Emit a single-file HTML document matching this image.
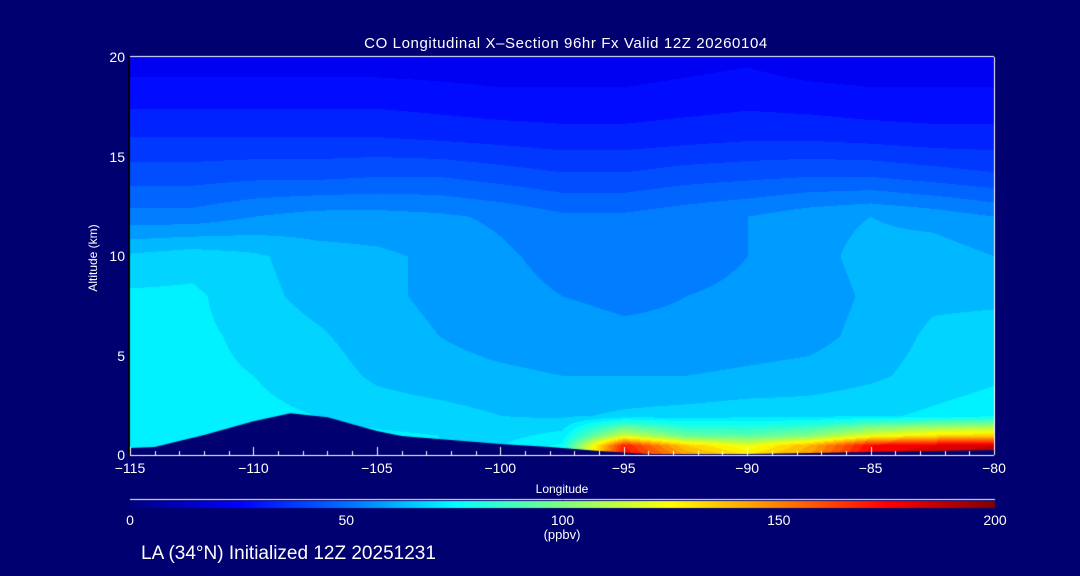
<!DOCTYPE html>
<html><head><meta charset="utf-8"><style>
html,body{margin:0;padding:0;background:#000070;}
#wrap{position:relative;width:1080px;height:576px;background:#000070;overflow:hidden;font-family:"Liberation Sans",sans-serif;color:#fff;}
.t{position:absolute;color:#fff;white-space:nowrap;}
</style></head><body>
<div id="wrap">
<canvas id="cv" width="1080" height="576" style="position:absolute;left:0;top:0"></canvas>
<div class="t" style="left:566px;transform:translateX(-50%);top:35px;font-size:15px;letter-spacing:0.6px;">CO Longitudinal X–Section 96hr  Fx Valid 12Z 20260104</div>
<div class="t" style="left:93px;top:258px;font-size:12px;transform:translate(-50%,-50%) rotate(-90deg);">Altitude (km)</div>
<div class="t" style="left:562px;top:482px;font-size:12px;transform:translateX(-50%);">Longitude</div>
<div class="t" style="left:562px;top:527px;font-size:13px;transform:translateX(-50%);">(ppbv)</div>
<div class="t" style="left:141px;top:543px;font-size:19px;">LA (34°N) Initialized 12Z 20251231</div>
<div id="labels"></div>
</div>
<script>
const lons=[-115,-112.5,-110,-107.5,-105,-102.5,-100,-97.5,-95,-92.5,-90,-87.5,-85,-82.5,-80];
const alts=[0,0.5,1,2,4,6,8,10,12,14,16,18,20];
const co=[
[72,72,72,72,71,70,70,80,175,145,130,145,178,186,190],
[72,72,72,72,71,70,70,76,170,135,120,140,175,180,185],
[72,72,72,72,71,70,68,72,115,95,92,100,120,130,135],
[72,72,71,70,68,67,65,64,66,67,68,68,69,71,73],
[71,71,70,68,64,62,61,60,60,60,61,62,64,67,69],
[71,71,69,66,62,60,58,57,56,56,57,58,62,66,67],
[71,71,67,63,61,59,57,55,54,55,56,57,61,64,64],
[66,68,66,62,61,59,56,53,52,53,55,58,62,63,60],
[52,52,55,57,57,56,54,51,51,53,55,58,60,58,55],
[43,43,44,44,45,45,43,41,41,43,44,45,45,43,41],
[35,35,35,35,35,34,33,32,32,33,34,34,33,32,32],
[28,28,28,28,28,27,26,26,26,27,28,27,26,26,26],
[22,22,22,22,22,22,22,22,22,23,24,22,22,22,22]];
const terrLon=[-115,-114,-112,-110,-108.5,-107,-105,-104,-102,-100,-98,-96,-94,-90,-85,-80];
const terrAlt=[0.35,0.4,1.0,1.7,2.1,1.9,1.2,0.95,0.75,0.55,0.4,0.2,0.05,0.05,0.15,0.25];
const xTicks=[-115,-110,-105,-100,-95,-90,-85,-80];
const yTicks=[0,5,10,15,20];
const cbTicks=[0,50,100,150,200];
const cmapV=[0,25,50,75,100,125,150,175,200];
const cmapC=[[0,0,128],[0,0,255],[0,112,255],[0,255,255],[128,255,128],[255,255,0],[255,128,0],[255,0,0],[128,0,0]];

const X0=130,X1=994,Y0=455,Y1=57;
const xs=v=>X0+(v-(-115))/35*(X1-X0);
const ys=v=>Y0-v/20*(Y0-Y1);
function cmap(v){v=Math.max(0,Math.min(200,v));let i=0;while(i<cmapV.length-2&&v>cmapV[i+1])i++;
 const f=(v-cmapV[i])/(cmapV[i+1]-cmapV[i]);return cmapC[i].map((c,k)=>Math.round(c+(cmapC[i+1][k]-c)*f));}
function idx(arr,v){let i=0;while(i<arr.length-2&&v>arr[i+1])i++;return [i,(v-arr[i])/(arr[i+1]-arr[i])];}
function field(lon,alt){const [i,fx]=idx(lons,lon),[j,fy]=idx(alts,alt);
 const a=co[j][i],b=co[j][i+1],c=co[j+1][i],d=co[j+1][i+1];
 return (a*(1-fx)+b*fx)*(1-fy)+(c*(1-fx)+d*fx)*fy;}
const cv=document.getElementById('cv'),ctx=cv.getContext('2d');
const img=ctx.createImageData(X1-X0,Y0-Y1);
for(let py=0;py<Y0-Y1;py++){const alt=(Y0-(Y1+py))/(Y0-Y1)*20;
 for(let px=0;px<X1-X0;px++){const lon=-115+px/(X1-X0)*35;
  let v=field(lon,alt);v=Math.floor(v/5)*5+2.5;const c=cmap(v);const o=(py*(X1-X0)+px)*4;
  img.data[o]=c[0];img.data[o+1]=c[1];img.data[o+2]=c[2];img.data[o+3]=255;}}
ctx.putImageData(img,X0,Y1);
// terrain
ctx.fillStyle='#000070';ctx.beginPath();ctx.moveTo(xs(terrLon[0]),Y0);
terrLon.forEach((l,i)=>ctx.lineTo(xs(l),ys(terrAlt[i])));ctx.lineTo(X1,Y0);ctx.closePath();ctx.fill();
// axes
ctx.strokeStyle='#fff';ctx.lineWidth=1;
ctx.beginPath();ctx.moveTo(X0,Y0+0.5);ctx.lineTo(X1,Y0+0.5);ctx.moveTo(X0,Y1-0.5);ctx.lineTo(X1,Y1-0.5);ctx.moveTo(X1+0.5,Y1);ctx.lineTo(X1+0.5,Y0);ctx.stroke();
ctx.strokeStyle='#000';ctx.lineWidth=2;ctx.beginPath();ctx.moveTo(X0-1,Y1);ctx.lineTo(X0-1,Y0);ctx.stroke();
ctx.strokeStyle='#fff';ctx.lineWidth=1;ctx.beginPath();
for(let l=-115;l<=-80;l++){const x=Math.round(xs(l))+0.5;ctx.moveTo(x,Y0);ctx.lineTo(x,Y0-(l%5===0?8:4));}
ctx.stroke();
// colorbar
const CB0=130,CB1=995;
ctx.beginPath();ctx.moveTo(CB0,499.5);ctx.lineTo(CB1,499.5);ctx.stroke();
for(let px=CB0;px<CB1;px++){const c=cmap((px-CB0)/(CB1-CB0)*200);ctx.fillStyle=`rgb(${c})`;ctx.fillRect(px,501,1,7);}
const L=document.getElementById('labels');
function lab(txt,x,y,name,size,align){const d=document.createElement('div');d.className='t';d.textContent=txt;
 
 
 d.style.left=x+'px';d.style.top=y+'px';d.style.fontSize=size+'px';
 d.style.transform=align==='c'?'translate(-50%,0)':'translate(-100%,-50%)';L.appendChild(d);}
xTicks.forEach(v=>lab(String(v).replace('-','−'),xs(v),460,'x-tick-label',14,'c'));
yTicks.forEach(v=>lab(String(v),125,ys(v),'y-tick-label',14,'r'));
cbTicks.forEach(v=>lab(String(v),CB0+v/200*(CB1-CB0),512,'colorbar-tick-label',14,'c'));
</script>
</body></html>
